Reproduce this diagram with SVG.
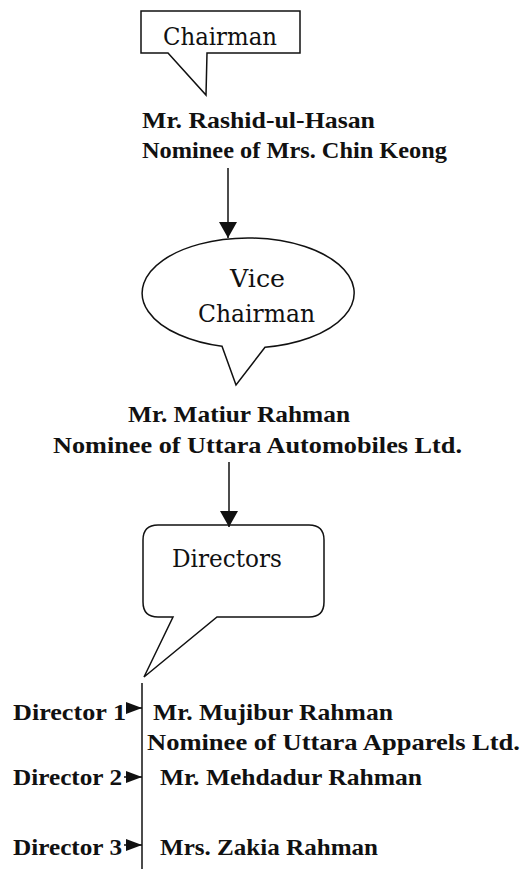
<svg xmlns="http://www.w3.org/2000/svg" width="532" height="869" viewBox="0 0 532 869">
<style>
.shape{fill:#fff;stroke:#111;stroke-width:1.5;stroke-linejoin:miter}
.lbl{font-family:"DejaVu Serif","Liberation Serif",serif;font-size:25px;fill:#111}
.name{font-family:"Liberation Serif","Times New Roman",serif;font-size:23px;font-weight:bold;fill:#111}
.conn{stroke:#111;stroke-width:1.5;fill:none}
</style>
<defs>
<marker id="ah" markerUnits="userSpaceOnUse" markerWidth="20" markerHeight="20" viewBox="0 0 20 20" refX="18" refY="10" orient="auto">
<path d="M2,1 L18,10 L2,19 Z" fill="#111"/>
</marker>
<marker id="ahs" markerUnits="userSpaceOnUse" markerWidth="18" markerHeight="14" viewBox="0 0 18 14" refX="17" refY="7" orient="auto">
<path d="M1,1 L17,7 L1,13 Z" fill="#111"/>
</marker>
</defs>
<g id="chairman">
<path class="shape" d="M141,11 H300 V53 H207 L206,95 L168,53 H141 Z"/>
<text class="lbl" x="163" y="45" textLength="114" lengthAdjust="spacingAndGlyphs">Chairman</text>
</g>
<g id="chairman-name">
<text class="name" x="142" y="128" textLength="233" lengthAdjust="spacingAndGlyphs">Mr. Rashid-ul-Hasan</text>
<text class="name" x="142" y="158" textLength="305" lengthAdjust="spacingAndGlyphs">Nominee of Mrs. Chin Keong</text>
</g>
<g id="vice-chairman">
<path class="shape" d="M222,346.3 A106,55 0 1 1 265,347.3 L236,385 Z"/>
<text class="lbl" x="230" y="287" textLength="55" lengthAdjust="spacingAndGlyphs">Vice</text>
<text class="lbl" x="198" y="322" textLength="117" lengthAdjust="spacingAndGlyphs">Chairman</text>
</g>
<g id="vice-chairman-name">
<text class="name" x="128" y="422" textLength="222" lengthAdjust="spacingAndGlyphs">Mr. Matiur Rahman</text>
<text class="name" x="53" y="453" textLength="409" lengthAdjust="spacingAndGlyphs">Nominee of Uttara Automobiles Ltd.</text>
</g>
<g id="directors">
<path class="shape" d="M158,525 H309 Q324,525 324,540 V602 Q324,617 309,617 H217 L144,677 L173,617 H158 Q143,617 143,602 V540 Q143,525 158,525 Z"/>
<text class="lbl" x="172" y="567" textLength="110" lengthAdjust="spacingAndGlyphs">Directors</text>
</g>
<g id="director-1">
<text class="name" x="13" y="720" textLength="113" lengthAdjust="spacingAndGlyphs">Director 1</text>
<text class="name" x="153" y="720" textLength="240" lengthAdjust="spacingAndGlyphs">Mr. Mujibur Rahman</text>
<text class="name" x="147" y="750" textLength="373" lengthAdjust="spacingAndGlyphs">Nominee of Uttara Apparels Ltd.</text>
</g>
<g id="director-2">
<text class="name" x="13" y="785" textLength="109" lengthAdjust="spacingAndGlyphs">Director 2</text>
<text class="name" x="160" y="785" textLength="262" lengthAdjust="spacingAndGlyphs">Mr. Mehdadur Rahman</text>
</g>
<g id="director-3">
<text class="name" x="13" y="855" textLength="109" lengthAdjust="spacingAndGlyphs">Director 3</text>
<text class="name" x="160" y="855" textLength="218" lengthAdjust="spacingAndGlyphs">Mrs. Zakia Rahman</text>
</g>
<g id="connectors">
<line class="conn" x1="228" y1="168" x2="228" y2="238" marker-end="url(#ah)"/>
<line class="conn" x1="229" y1="462" x2="229" y2="527" marker-end="url(#ah)"/>
<line class="conn" x1="142" y1="683" x2="142" y2="869"/>
<line class="conn" x1="126" y1="708" x2="142" y2="708" marker-end="url(#ahs)"/>
<line class="conn" x1="124" y1="777" x2="142" y2="777" marker-end="url(#ahs)"/>
<line class="conn" x1="124" y1="845" x2="142" y2="845" marker-end="url(#ahs)"/>
</g>
</svg>
